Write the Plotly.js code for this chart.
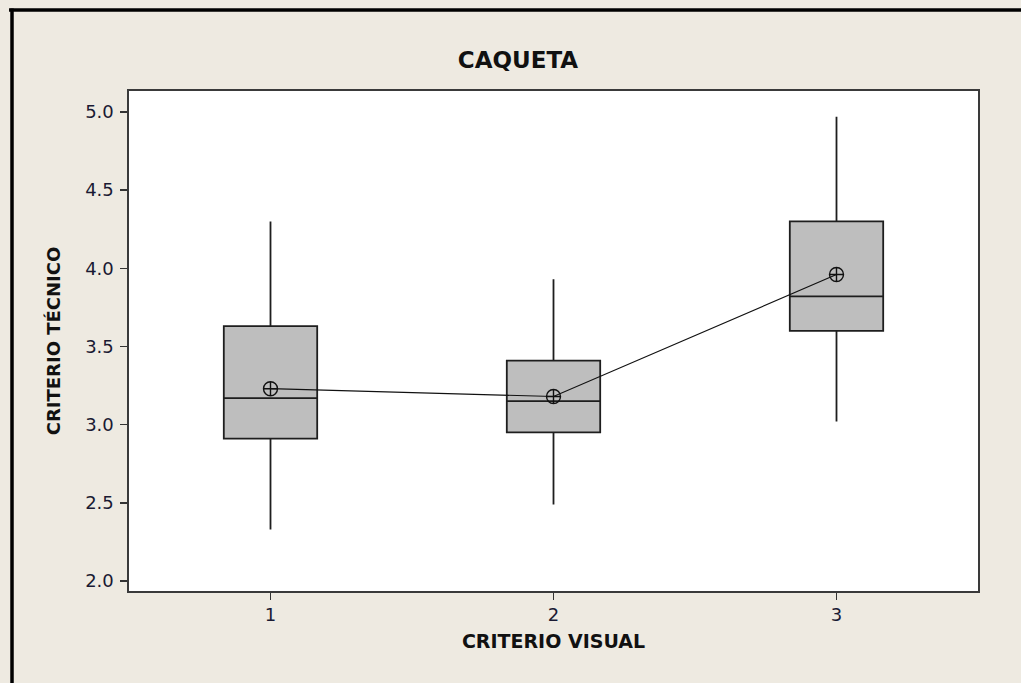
<!DOCTYPE html>
<html>
<head>
<meta charset="utf-8">
<script src="https://cdn.plot.ly/plotly-3.0.1.min.js"></script>
<style>
  html, body { margin: 0; padding: 0; background: #EEEAE1; }
  #chart { width: 1021px; height: 683px; }
</style>
</head>
<body>
<div id="chart"></div>
<script>
// Data
const categories = [1, 2, 3];
const q1Values = [2.91, 2.95, 3.60];
const medianValues = [3.17, 3.15, 3.82];
const q3Values = [3.63, 3.41, 4.30];
const lowerWhisker = [2.33, 2.49, 3.02];
const upperWhisker = [4.30, 3.93, 4.97];
const meanValues = [3.23, 3.18, 3.96];
const yTickValues = [2.0, 2.5, 3.0, 3.5, 4.0, 4.5, 5.0];
const yTickLabels = ["2.0", "2.5", "3.0", "3.5", "4.0", "4.5", "5.0"];
const xTickLabels = ["1", "2", "3"];

const boxTrace = {
  type: 'box',
  x: categories,
  q1: q1Values,
  median: medianValues,
  q3: q3Values,
  lowerfence: lowerWhisker,
  upperfence: upperWhisker,
  width: 0.33,
  whiskerwidth: 0,
  fillcolor: '#BEBEBE',
  line: { color: '#1e1e1e', width: 1.8 },
  hoverinfo: 'skip',
  showlegend: false
};

const meanTrace = {
  type: 'scatter',
  mode: 'lines+markers',
  x: categories,
  y: meanValues,
  line: { color: '#111111', width: 1.2 },
  marker: { symbol: 'circle-cross-open', size: 14, color: '#111111', line: { width: 1.4, color: '#111111' } },
  hoverinfo: 'skip',
  showlegend: false
};

const font = 'DejaVu Sans, Verdana, sans-serif';

const layout = {
  width: 1021,
  height: 683,
  paper_bgcolor: '#EEEAE1',
  plot_bgcolor: '#FFFFFF',
  margin: { l: 129, r: 43, t: 91, b: 92, autoexpand: false },
  title: {
    text: '<b>CAQUETA</b>',
    font: { family: font, size: 23, color: '#111111' },
    x: 518 / 1021, xref: 'container', xanchor: 'center',
    y: 1 - 60 / 683, yref: 'container', yanchor: 'middle'
  },
  xaxis: {
    range: [0.5, 3.5],
    tickmode: 'array',
    tickvals: categories,
    ticktext: xTickLabels,
    ticks: 'outside',
    ticklen: 7,
    tickwidth: 1.5,
    tickcolor: '#333333',
    showline: true,
    linecolor: '#3a3a3a',
    linewidth: 1.6,
    mirror: true,
    showgrid: false,
    zeroline: false,
    tickfont: { family: font, size: 18, color: '#1a1a33' },
    title: { text: '<b>CRITERIO VISUAL</b>', font: { family: font, size: 19, color: '#111111' }, standoff: 10 }
  },
  yaxis: {
    range: [1.936, 5.134],
    tickmode: 'array',
    tickvals: yTickValues,
    ticktext: yTickLabels,
    ticks: 'outside',
    ticklen: 7,
    tickwidth: 1.5,
    tickcolor: '#333333',
    ticklabelstandoff: 3,
    showline: true,
    linecolor: '#3a3a3a',
    linewidth: 1.6,
    mirror: true,
    showgrid: false,
    zeroline: false,
    tickfont: { family: font, size: 18, color: '#1a1a33' },
    title: { text: '<b>CRITERIO TÉCNICO</b>', font: { family: font, size: 18, color: '#111111' }, standoff: 20 }
  },
  shapes: [
    { type: 'line', xref: 'paper', yref: 'paper', x0: -0.1413, x1: 1.06, y0: 1.162, y1: 1.162, line: { color: '#000000', width: 3.5 } },
    { type: 'line', xref: 'paper', yref: 'paper', x0: -0.1378, x1: -0.1378, y0: 1.165, y1: -0.2, line: { color: '#000000', width: 3.5 } }
  ]
};

Plotly.newPlot('chart', [boxTrace, meanTrace], layout, { displayModeBar: false, staticPlot: true });
</script>
</body>
</html>
